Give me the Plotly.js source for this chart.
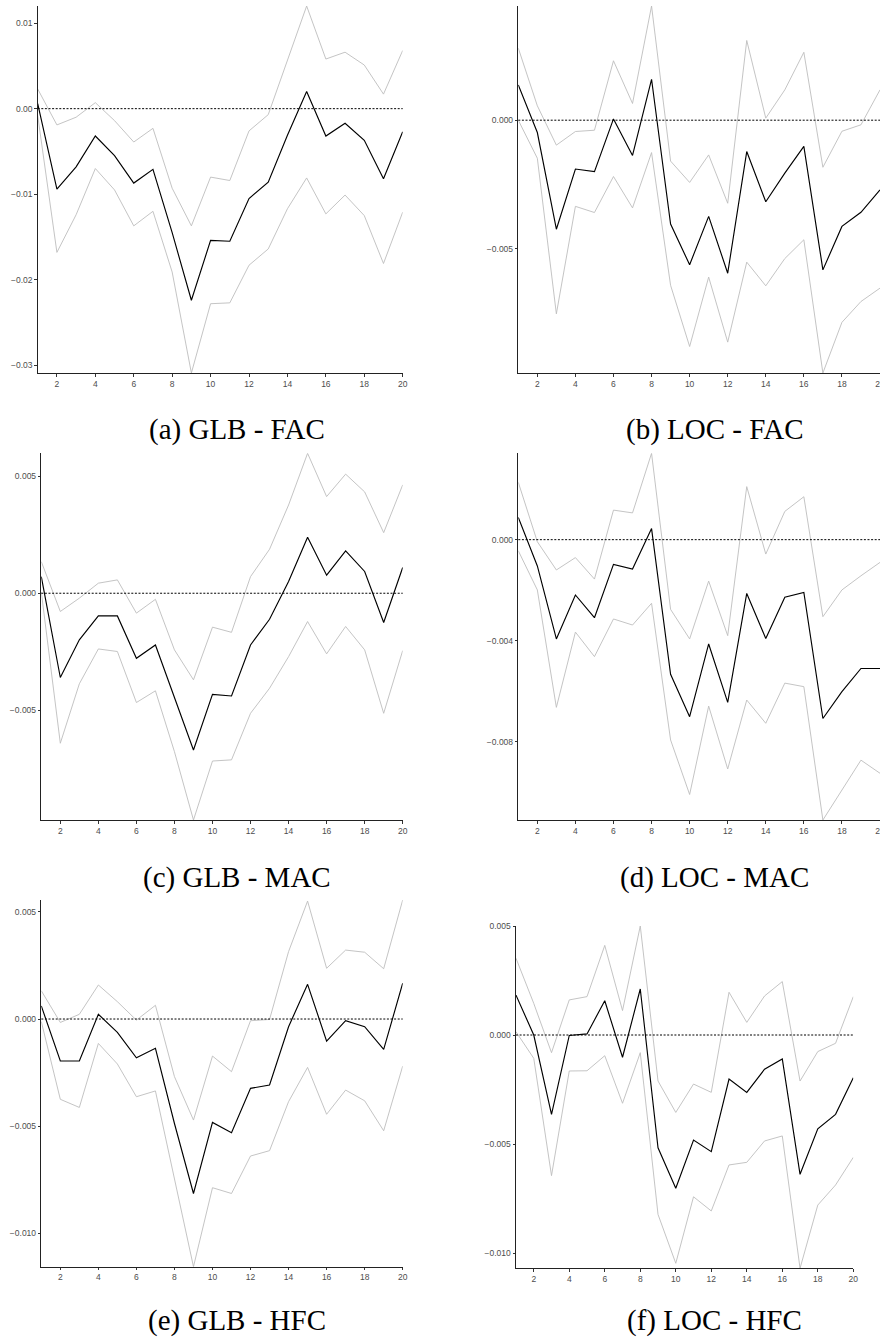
<!DOCTYPE html>
<html>
<head>
<meta charset="utf-8">
<script src="https://cdn.plot.ly/plotly-3.0.1.min.js"></script>
<style>
html,body{margin:0;padding:0;background:#ffffff;overflow:hidden;}
#chart{width:880px;height:1340px;}
</style>
</head>
<body>
<div id="chart"></div>
<script>
// ---------------- data ----------------
const horizon = [1,2,3,4,5,6,7,8,9,10,11,12,13,14,15,16,17,18,19,20];
const xTickVals = [2,4,6,8,10,12,14,16,18,20];

const captions = ["(a) GLB - FAC","(b) LOC - FAC","(c) GLB - MAC","(d) LOC - MAC","(e) GLB - HFC","(f) LOC - HFC"];

// (a) GLB - FAC
const a_irf   = [0.0006,-0.0094,-0.0068,-0.0032,-0.0055,-0.0087,-0.0071,-0.0145,-0.0224,-0.0154,-0.0155,-0.0105,-0.0086,-0.0031,0.0020,-0.0032,-0.0017,-0.0037,-0.0082,-0.0027];
const a_upper = [0.0023,-0.0019,-0.0010,0.0007,-0.0014,-0.0039,-0.0023,-0.0093,-0.0137,-0.0080,-0.0084,-0.0026,-0.0007,0.0057,0.0120,0.0058,0.0066,0.0051,0.0017,0.0068];
const a_lower = [-0.0008,-0.0168,-0.0124,-0.0070,-0.0095,-0.0137,-0.0120,-0.0191,-0.0309,-0.0228,-0.0227,-0.0183,-0.0164,-0.0117,-0.0081,-0.0123,-0.0101,-0.0125,-0.0181,-0.0121];
const a_yticks = [0.01,0,-0.01,-0.02,-0.03];

// (b) LOC - FAC
const b_irf   = [0.00137,-0.00048,-0.00424,-0.0019,-0.0020,0.00005,-0.00137,0.00159,-0.00404,-0.00562,-0.00374,-0.00595,-0.00122,-0.00317,-0.00206,-0.00102,-0.00582,-0.00413,-0.00358,-0.00271];
const b_upper = [0.0028,0.00056,-0.00097,-0.00044,-0.00039,0.00231,0.00065,0.00444,-0.00159,-0.00242,-0.00135,-0.00323,0.0031,0.00008,0.00118,0.00264,-0.00183,-0.00043,-0.00018,0.00118];
const b_lower = [0.0,-0.00148,-0.00753,-0.00335,-0.00359,-0.00219,-0.00341,-0.00126,-0.00642,-0.0088,-0.0061,-0.00863,-0.00552,-0.00644,-0.00538,-0.00465,-0.00983,-0.00786,-0.00705,-0.00653];
const b_yticks = [0,-0.005];

// (c) GLB - MAC
const c_irf   = [0.00071,-0.0036,-0.00199,-0.00097,-0.00097,-0.00278,-0.00221,-0.0045,-0.0067,-0.00432,-0.00439,-0.00221,-0.00111,0.0005,0.00239,0.00077,0.00181,0.00093,-0.00125,0.0011];
const c_upper = [0.00135,-0.00078,-0.00021,0.00043,0.00057,-0.00085,-0.00026,-0.00242,-0.0037,-0.00145,-0.00167,0.00071,0.00188,0.00377,0.00598,0.00413,0.00509,0.00433,0.00259,0.00463];
const c_lower = [0.00005,-0.00641,-0.00387,-0.00238,-0.00249,-0.00467,-0.00417,-0.00677,-0.00969,-0.00717,-0.00712,-0.00513,-0.00406,-0.00271,-0.00121,-0.00259,-0.00142,-0.00242,-0.00513,-0.00245];
const c_yticks = [0.005,0,-0.005];

// (d) LOC - MAC
const d_irf   = [0.00088,-0.00104,-0.00393,-0.00219,-0.00309,-0.00098,-0.00116,0.00044,-0.00533,-0.00701,-0.00413,-0.00644,-0.00213,-0.00391,-0.00228,-0.00209,-0.00708,-0.00602,-0.0051,-0.0051];
const d_upper = [0.00227,-0.00008,-0.0012,-0.00071,-0.00156,0.00117,0.00106,0.00342,-0.00276,-0.00393,-0.00164,-0.0038,0.0021,-0.00057,0.00112,0.0017,-0.00305,-0.00199,-0.00143,-0.0009];
const d_lower = [-0.00044,-0.00199,-0.00664,-0.00366,-0.00463,-0.00314,-0.00338,-0.00252,-0.00793,-0.01009,-0.00659,-0.00908,-0.00635,-0.00727,-0.00568,-0.00582,-0.0111,-0.00991,-0.00873,-0.00925];
const d_yticks = [0,-0.004,-0.008];

// (e) GLB - HFC
const e_irf   = [0.00061,-0.00196,-0.00196,0.00022,-0.00062,-0.00181,-0.00137,-0.00488,-0.00815,-0.00483,-0.00531,-0.00324,-0.00308,-0.00036,0.00162,-0.00103,-0.00008,-0.00036,-0.00142,0.00167];
const e_upper = [0.00132,-0.00016,0.00022,0.00159,0.00081,-0.00005,0.00064,-0.00269,-0.00472,-0.00173,-0.00246,-0.00008,-0.00002,0.00315,0.00551,0.00237,0.00322,0.00312,0.00235,0.00556];
const e_lower = [-0.00012,-0.00375,-0.00413,-0.00114,-0.0021,-0.00363,-0.00336,-0.00752,-0.01157,-0.00788,-0.00815,-0.0064,-0.00615,-0.00386,-0.00226,-0.00445,-0.00332,-0.00382,-0.00522,-0.0022];
const e_yticks = [0.005,0,-0.005,-0.01];

// (f) LOC - HFC
const f_irf   = [0.00183,0.0,-0.00364,-0.00002,0.00005,0.00157,-0.00102,0.00211,-0.00517,-0.00703,-0.00482,-0.00535,-0.00202,-0.00263,-0.00157,-0.0011,-0.00639,-0.0043,-0.00364,-0.00196];
const f_upper = [0.00352,0.00145,-0.00081,0.00161,0.00176,0.00411,0.00112,0.005,-0.00211,-0.00355,-0.00225,-0.00263,0.00196,0.00058,0.00179,0.00245,-0.00211,-0.00076,-0.00038,0.00176];
const f_lower = [0.00015,-0.00107,-0.00645,-0.00165,-0.00164,-0.00095,-0.00313,-0.00081,-0.00823,-0.01047,-0.00742,-0.00807,-0.00596,-0.00584,-0.00486,-0.00463,-0.0107,-0.0078,-0.00688,-0.00561];
const f_yticks = [0.005,0,-0.005,-0.01];

// ---------------- layout ----------------
const W = 880, H = 1340;
const panels = [
  {irf:a_irf, up:a_upper, lo:a_lower, yt:a_yticks, fmt:'.2f', px:[37.7,402.7], py:[6,373],     cap:[237,429]},
  {irf:b_irf, up:b_upper, lo:b_lower, yt:b_yticks, fmt:'.3f', px:[518.3,880],  py:[6,373],     cap:[714,429]},
  {irf:c_irf, up:c_upper, lo:c_lower, yt:c_yticks, fmt:'.3f', px:[41.3,402.7], py:[453.3,820], cap:[237,877]},
  {irf:d_irf, up:d_upper, lo:d_lower, yt:d_yticks, fmt:'.3f', px:[518.3,880],  py:[453.3,820], cap:[714,877]},
  {irf:e_irf, up:e_upper, lo:e_lower, yt:e_yticks, fmt:'.3f', px:[41.3,402.7], py:[900,1266.7],cap:[237,1320]},
  {irf:f_irf, up:f_upper, lo:f_lower, yt:f_yticks, fmt:'.3f', px:[516,853.3],  py:[926,1268.3],cap:[714,1320]}
];

const traces = [];
const layout = {
  width: W, height: H,
  margin: {l:0, r:0, t:0, b:0, pad:0},
  paper_bgcolor: '#ffffff',
  plot_bgcolor: '#ffffff',
  showlegend: false,
  shapes: [],
  annotations: []
};

const tickFont = {family:'Liberation Sans, Arial, sans-serif', size:8.5, color:'#4d4d4d'};

panels.forEach((p, i) => {
  const n = i + 1;
  const xa = n === 1 ? 'x' : 'x' + n;
  const ya = n === 1 ? 'y' : 'y' + n;
  const xk = n === 1 ? 'xaxis' : 'xaxis' + n;
  const yk = n === 1 ? 'yaxis' : 'yaxis' + n;
  const ymin = Math.min(...p.lo, ...p.irf);
  const ymax = Math.max(...p.up, ...p.irf);

  layout[xk] = {
    domain: [p.px[0] / W, p.px[1] / W],
    anchor: ya,
    range: [1, 20],
    tickmode: 'array', tickvals: xTickVals,
    showgrid: false, zeroline: false,
    showline: true, linecolor: '#222', linewidth: 1,
    ticks: 'outside', ticklen: 2.5, tickwidth: 1, tickcolor: '#333',
    ticklabeloverflow: 'allow',
    tickfont: tickFont, fixedrange: true
  };
  layout[yk] = {
    domain: [1 - p.py[1] / H, 1 - p.py[0] / H],
    anchor: xa,
    range: [ymin, ymax],
    tickmode: 'array', tickvals: p.yt, tickformat: p.fmt,
    showgrid: false, zeroline: false,
    showline: true, linecolor: '#222', linewidth: 1,
    ticks: 'outside', ticklen: 2.5, tickwidth: 1, tickcolor: '#333',
    ticklabeloverflow: 'allow',
    tickfont: tickFont, fixedrange: true
  };

  layout.shapes.push({
    type: 'line', xref: xa + ' domain', yref: ya,
    x0: 0, x1: 1, y0: 0, y1: 0,
    line: {color: '#000', width: 1, dash: '2px,1.6px'}, layer: 'above'
  });

  traces.push({x: horizon, y: p.up, xaxis: xa, yaxis: ya, type: 'scatter', mode: 'lines',
               line: {color: '#bdbdbd', width: 0.9}, hoverinfo: 'skip'});
  traces.push({x: horizon, y: p.lo, xaxis: xa, yaxis: ya, type: 'scatter', mode: 'lines',
               line: {color: '#bdbdbd', width: 0.9}, hoverinfo: 'skip'});
  traces.push({x: horizon, y: p.irf, xaxis: xa, yaxis: ya, type: 'scatter', mode: 'lines',
               line: {color: '#000000', width: 1.15}, hoverinfo: 'skip'});

  layout.annotations.push({
    xref: 'paper', yref: 'paper',
    x: p.cap[0] / W, y: 1 - p.cap[1] / H,
    xanchor: 'center', yanchor: 'middle',
    text: captions[i], showarrow: false,
    font: {family: 'Liberation Serif, Times New Roman, serif', size: 29, color: '#000'}
  });
});

Plotly.newPlot('chart', traces, layout, {staticPlot: true, displayModeBar: false});
</script>
</body>
</html>
